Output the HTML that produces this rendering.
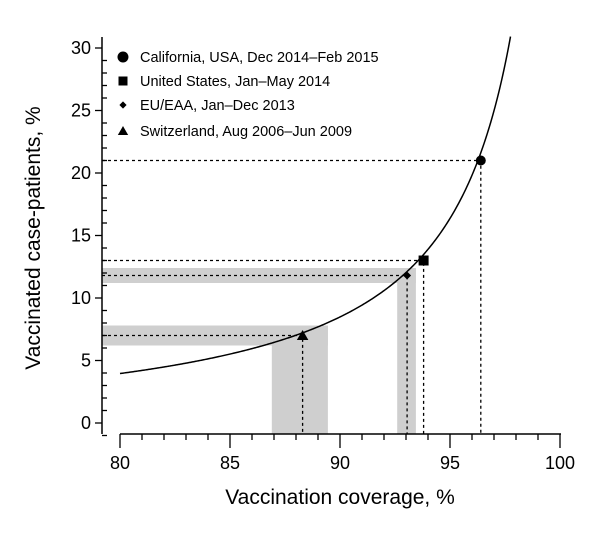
<!DOCTYPE html>
<html><head><meta charset="utf-8"><style>
body{margin:0;background:#fff}
svg{display:block;font-family:"Liberation Sans",Arial,sans-serif}
</style></head><body>
<svg id="c" width="600" height="540" viewBox="0 0 600 540"></svg>
<script>
const xTicks=[80,85,90,95,100];
const yTicks=[0,5,10,15,20,25,30];
const seriesNames=["California, USA, Dec 2014\u2013Feb 2015","United States, Jan\u2013May 2014","EU/EAA, Jan\u2013Dec 2013","Switzerland, Aug 2006\u2013Jun 2009"];
const seriesShapes=["circle","square","diamond","triangle"];
const coverage=[96.4,93.8,93.05,88.3];
const casesVacc=[21.0,13.0,11.8,7.0];
const covLow=[null,null,92.6,86.9];
const covHigh=[null,null,93.45,89.45];
const caseLow=[null,null,11.2,6.2];
const caseHigh=[null,null,12.4,7.8];
const vaccineEff=0.9897;

const svg=document.getElementById('c');
const NS='http://www.w3.org/2000/svg';
const X=v=>120+(v-80)*22;
const Y=v=>423-v*12.5;
const AX=102, AY=434, YTOP=37;
function mk(t,a,p){const e=document.createElementNS(NS,t);for(const k in a)e.setAttribute(k,a[k]);(p||svg).appendChild(e);return e;}

for(let i=0;i<coverage.length;i++){
  if(covLow[i]==null)continue;
  const h=mk('rect',{x:AX,y:Y(caseHigh[i]),width:X(covHigh[i])-AX,height:Y(caseLow[i])-Y(caseHigh[i]),fill:'#cfcfcf'});
  
  
  const v=mk('rect',{x:X(covLow[i]),y:Y(caseHigh[i]),width:X(covHigh[i])-X(covLow[i]),height:AY-Y(caseHigh[i]),fill:'#cfcfcf'});
  
  
}
for(let i=0;i<coverage.length;i++){
  const px=X(coverage[i]),py=Y(casesVacc[i]);
  const g=mk('path',{d:`M${AX} ${py}H${px}V${AY}`,fill:'none',stroke:'#000','stroke-width':1.3,'stroke-dasharray':'3,3'});
  
  
}
let d='';
for(let c=80;c<=99;c+=0.05){
  const p=c/100;const pcv=100*p*(1-vaccineEff)/(1-p*vaccineEff);
  if(pcv>31.2)break;
  d+=(d?'L':'M')+X(c).toFixed(2)+' '+Y(pcv).toFixed(2);
}
const cv=mk('path',{d,fill:'none',stroke:'#000','stroke-width':1.5});



function marker(shape,x,y,s,parent){
  let e;
  if(shape==='circle')e=mk('circle',{cx:x,cy:y,r:s},parent);
  else if(shape==='square')e=mk('rect',{x:x-s,y:y-s,width:2*s,height:2*s},parent);
  else if(shape==='diamond')e=mk('path',{d:`M${x} ${y-s*0.8}L${x+s*0.8} ${y}L${x} ${y+s*0.8}L${x-s*0.8} ${y}Z`},parent);
  else e=mk('path',{d:`M${x} ${y-s*1.1}L${x+s*1.15} ${y+s*0.9}L${x-s*1.15} ${y+s*0.9}Z`},parent);
  e.setAttribute('fill','#000');return e;
}
for(let i=0;i<coverage.length;i++){
  const m=marker(seriesShapes[i],X(coverage[i]),Y(casesVacc[i]),5);
  
  
}
const ax=mk('path',{d:`M${AX} ${YTOP}V${AY}M${X(80)} ${AY}H${X(100)+1}`,stroke:'#000','stroke-width':1.5,fill:'none'});


for(let v=-1;v<=30;v++){
  const maj=v%5===0;
  mk('line',{x1:maj?AX-7:AX,x2:maj?AX:AX+5,y1:Y(v),y2:Y(v),stroke:'#000','stroke-width':1.3});
}
for(let v=80;v<=100;v++){
  const maj=v%5===0;
  mk('line',{x1:X(v),x2:X(v),y1:AY,y2:AY+(maj?14:6),stroke:'#000','stroke-width':1.3});
}
yTicks.forEach(v=>{const t=mk('text',{x:AX-11,y:Y(v)+6,'text-anchor':'end','font-size':18});t.textContent=v;
  });
xTicks.forEach(v=>{const t=mk('text',{x:X(v),y:469,'text-anchor':'middle','font-size':18});t.textContent=v;
  });
const xt=mk('text',{x:340,y:504,'text-anchor':'middle','font-size':21});xt.textContent='Vaccination coverage, %';

const yt=mk('text',{x:0,y:0,'text-anchor':'middle','font-size':21,transform:'translate(40 238) rotate(-90)'});yt.textContent='Vaccinated case-patients, %';

const lg=mk('g',{});


const ly=[62,86,110,136];
seriesNames.forEach((n,i)=>{
  marker(seriesShapes[i],123,ly[i]-5,i===0?5.5:4.5,lg);
  const t=mk('text',{x:140,y:ly[i],'font-size':14.5},lg);t.textContent=n;
  
});
</script>
</body></html>
